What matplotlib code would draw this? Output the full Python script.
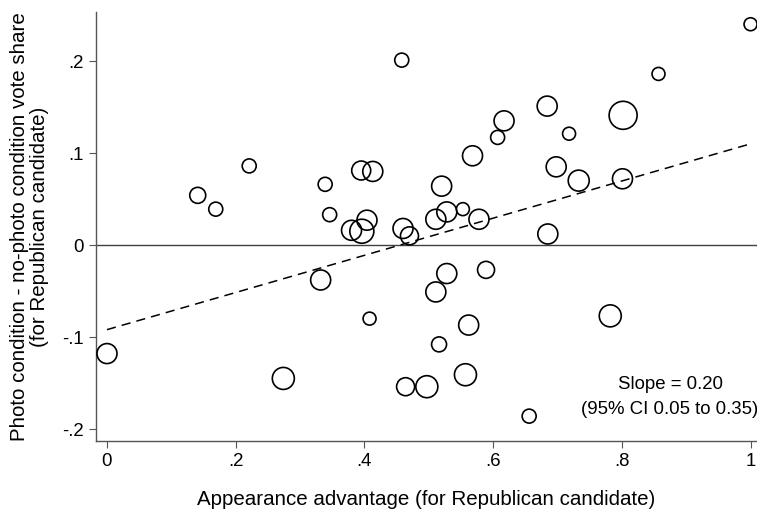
import numpy as np
import matplotlib.pyplot as plt

plt.rcParams['font.family'] = ['Liberation Sans', 'DejaVu Sans']

# appearance advantage, vote share difference, weight (bubble area)
adv = [0.000, 0.141, 0.169, 0.221, 0.339, 0.346, 0.395, 0.413, 0.380, 0.396,
       0.404, 0.460, 0.470, 0.458, 0.511, 0.528, 0.553, 0.578, 0.520, 0.568,
       0.607, 0.617, 0.684, 0.718, 0.698, 0.733, 0.802, 0.801, 0.857, 1.000,
       0.685, 0.332, 0.408, 0.274, 0.464, 0.497, 0.528, 0.511, 0.589, 0.562,
       0.516, 0.557, 0.782, 0.656]
diff = [-0.118, 0.054, 0.039, 0.086, 0.066, 0.033, 0.081, 0.080, 0.016, 0.015,
        0.027, 0.018, 0.010, 0.201, 0.028, 0.036, 0.039, 0.028, 0.064, 0.097,
        0.117, 0.135, 0.151, 0.121, 0.085, 0.070, 0.141, 0.072, 0.186, 0.240,
        0.012, -0.038, -0.080, -0.145, -0.154, -0.154, -0.031, -0.051, -0.027,
        -0.087, -0.108, -0.141, -0.077, -0.186]
weight = [100, 64, 49, 49, 49, 49, 90, 100, 100, 144,
          100, 100, 81, 49, 100, 100, 42, 100, 100, 100,
          49, 100, 100, 42, 100, 110, 196, 100, 42, 42,
          100, 100, 42, 121, 81, 121, 100, 100, 72, 100,
          56, 121, 121, 49]

intercept = -0.092
slope = 0.202

fig = plt.figure(figsize=(7.57, 5.13), dpi=100)
ax = fig.add_axes([0.1268, 0.1404, 0.873, 0.8362])

px2pt = 0.72
sizes = [(2 * np.sqrt(w) * px2pt) ** 2 for w in weight]
ax.scatter(adv, diff, s=sizes, facecolors='none', edgecolors='black',
           linewidths=1.2, zorder=3)

ax.axhline(0, color='#404040', lw=1.0, zorder=1)
xl = np.array([0, 1])
ax.plot(xl, intercept + slope * xl, ls=(0, (6, 4)), color='black', lw=1.1, zorder=2)

ax.set_xlim(-0.0171, 1.0098)
ax.set_ylim(-0.213, 0.2533)
ax.set_xticks([0, 0.2, 0.4, 0.6, 0.8, 1.0])
ax.set_xticklabels(['0', '.2', '.4', '.6', '.8', '1'])
ax.set_yticks([-0.2, -0.1, 0, 0.1, 0.2])
ax.set_yticklabels(['-.2', '-.1', '0', '.1', '.2'])

for s in ['top', 'right']:
    ax.spines[s].set_visible(False)
for s in ['left', 'bottom']:
    ax.spines[s].set_color('#555555')
    ax.spines[s].set_linewidth(1.0)
ax.tick_params(direction='out', length=5, color='#555555', labelsize=13.4, pad=4)

ax.set_xlabel('Appearance advantage (for Republican candidate)', fontsize=14.8, labelpad=14)
ax.set_ylabel('Photo condition - no-photo condition vote share\n(for Republican candidate)',
              fontsize=14.8, labelpad=9, linespacing=1.12)

ax.text(0.876, -0.152, 'Slope = 0.20', ha='center', va='center', fontsize=13.4)
ax.text(0.874, -0.179, '(95% CI 0.05 to 0.35)', ha='center', va='center', fontsize=13.4)

fig.savefig('out.png', dpi=100)
